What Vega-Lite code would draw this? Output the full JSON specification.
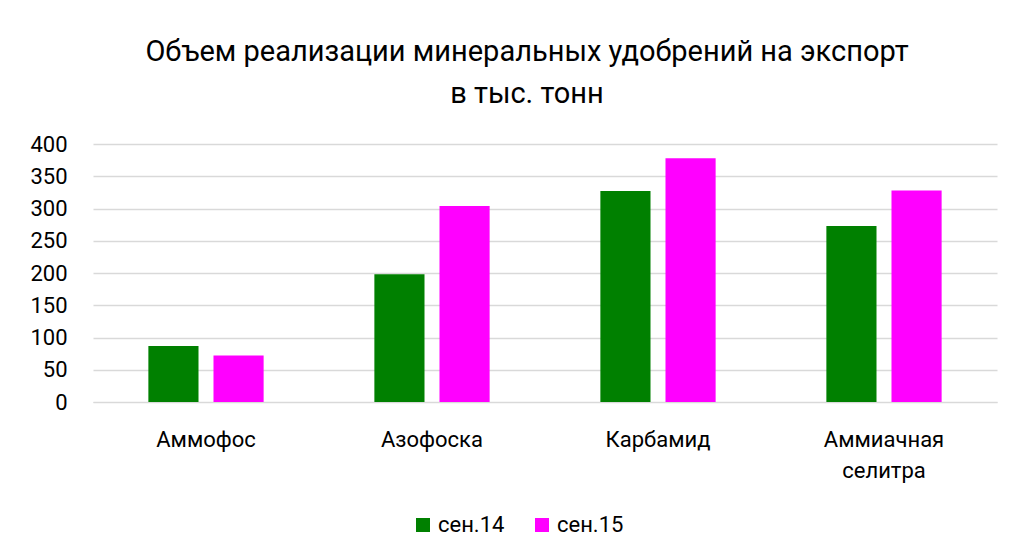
{
  "$schema": "https://vega.github.io/schema/vega-lite/v6.json",
  "autosize": {"type": "none"},
  "width": 904,
  "height": 258,
  "padding": {"left": 93, "top": 144, "right": 16, "bottom": 156},
  "background": "white",
  "title": {
    "text": ["Объем реализации минеральных удобрений на экспорт", "в тыс. тонн"],
    "fontSize": 29,
    "fontWeight": "normal",
    "color": "#000000",
    "lineHeight": 42,
    "anchor": "middle",
    "dx": -18,
    "offset": 24
  },
  "data": {
    "values": [
      {"product": "Аммофос", "period": "сен.14", "value": 87},
      {"product": "Аммофос", "period": "сен.15", "value": 72},
      {"product": "Азофоска", "period": "сен.14", "value": 198},
      {"product": "Азофоска", "period": "сен.15", "value": 304},
      {"product": "Карбамид", "period": "сен.14", "value": 327},
      {"product": "Карбамид", "period": "сен.15", "value": 378},
      {"product": "Аммиачная селитра", "period": "сен.14", "value": 273},
      {"product": "Аммиачная селитра", "period": "сен.15", "value": 328}
    ]
  },
  "mark": {"type": "bar"},
  "encoding": {
    "x": {
      "field": "product",
      "type": "nominal",
      "sort": ["Аммофос", "Азофоска", "Карбамид", "Аммиачная селитра"],
      "scale": {"paddingInner": 0.49, "paddingOuter": 0.245},
      "axis": {
        "title": null,
        "labelAngle": 0,
        "labelFontSize": 22,
        "labelPadding": 27,
        "labelLineHeight": 31,
        "labelExpr": "split(datum.label, ' ')",
        "domainColor": "#d9d9d9",
        "ticks": false,
        "labelColor": "#000000"
      }
    },
    "xOffset": {
      "field": "period",
      "type": "nominal",
      "scale": {"paddingInner": 0.23, "paddingOuter": 0}
    },
    "y": {
      "field": "value",
      "type": "quantitative",
      "scale": {"domain": [0, 400]},
      "axis": {
        "title": null,
        "values": [0, 50, 100, 150, 200, 250, 300, 350, 400],
        "labelFontSize": 22,
        "labelPadding": 26,
        "domain": false,
        "ticks": false,
        "gridColor": "#d9d9d9",
        "gridWidth": 1.5,
        "labelColor": "#000000"
      }
    },
    "color": {
      "field": "period",
      "type": "nominal",
      "scale": {"domain": ["сен.14", "сен.15"], "range": ["#008000", "#ff00ff"]},
      "legend": {
        "title": null,
        "orient": "none",
        "legendX": 319,
        "legendY": 370,
        "direction": "horizontal",
        "symbolType": "square",
        "symbolSize": 196,
        "symbolStrokeWidth": 0,
        "labelFontSize": 22,
        "labelColor": "#000000",
        "columnPadding": 26
      }
    }
  },
  "config": {
    "font": "Roboto",
    "view": {"stroke": null}
  }
}
